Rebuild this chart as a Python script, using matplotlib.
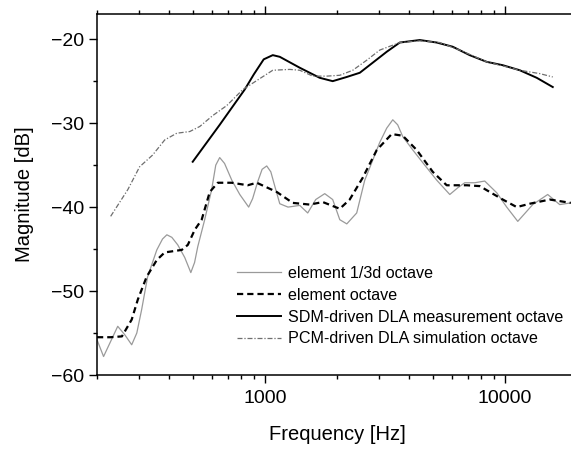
import numpy as np
import matplotlib
matplotlib.use('Agg')
import matplotlib.pyplot as plt
from matplotlib.ticker import LogLocator, MultipleLocator, NullFormatter, FixedLocator

# ---data--- #
third_freq = [200, 213, 244, 261, 279, 293, 307, 325, 355, 375, 391, 410, 434, 464, 492,
              510, 526, 562, 601, 625, 649, 680, 729, 787, 857, 890, 934, 975, 1019, 1060,
              1101, 1155, 1250, 1399, 1510, 1631, 1778, 1919, 2054, 2197, 2416, 2610,
              2792, 3013, 3222, 3415, 3580, 3758, 4140, 4552, 5208, 5902, 6370, 6813,
              7499, 8254, 9265, 10190, 11330, 13080, 15100, 16940, 18840]
third_db = [-55.8, -57.8, -54.2, -55.2, -56.4, -55.0, -52.2, -48.3, -45.1, -43.8, -43.3,
            -43.6, -44.5, -46.0, -47.8, -46.6, -44.7, -41.5, -37.9, -35.0, -34.1, -34.8,
            -36.8, -38.5, -40.0, -39.0, -37.0, -35.5, -35.1, -35.8, -37.5, -39.6, -40.0,
            -39.8, -40.7, -39.1, -38.4, -39.1, -41.5, -42.0, -40.7, -36.8, -34.7, -32.3,
            -30.6, -29.6, -30.2, -31.6, -33.2, -34.7, -36.8, -38.5, -37.7, -37.1, -37.1,
            -36.9, -38.3, -40.0, -41.7, -39.7, -38.5, -39.7, -39.5]

oct_freq = [200, 228, 254, 279, 296, 322, 355, 383, 451, 478, 511, 546, 590, 637, 729,
            849, 926, 1122, 1308, 1540, 1745, 2054, 2259, 2560, 2929, 3381, 3758, 4297,
            5012, 5730, 6950, 7865, 9812, 11220, 12710, 15400, 18840]
oct_db = [-55.5, -55.5, -55.4, -53.4, -51.0, -48.3, -46.3, -45.4, -45.1, -44.5, -42.7,
          -41.5, -38.2, -37.1, -37.1, -37.4, -37.1, -38.2, -39.5, -39.7, -39.4, -40.2,
          -39.1, -36.5, -33.2, -31.3, -31.5, -33.2, -35.8, -37.4, -37.4, -37.5, -39.1,
          -40.0, -39.6, -39.1, -39.5]

sdm_freq = [501, 649, 825, 900, 990, 1080, 1155, 1399, 1694, 1919, 2197, 2489, 2818, 3222,
            3652, 4424, 5208, 6072, 7143, 8414, 9812, 11550, 13590, 15850]
sdm_db = [-34.6, -30.2, -26.0, -24.2, -22.4, -21.9, -22.1, -23.4, -24.6, -25.0, -24.5,
          -24.0, -22.8, -21.5, -20.4, -20.1, -20.4, -20.9, -21.9, -22.7, -23.1, -23.7,
          -24.6, -25.7]

pcm_freq = [228, 269, 301, 341, 383, 430, 487, 536, 607, 695, 810, 953, 1080, 1271, 1399,
            1585, 1813, 2054, 2327, 2661, 3013, 3652, 4424, 5358, 6494, 8414, 10190,
            11550, 13990, 15850]
pcm_db = [-41.1, -37.9, -35.2, -33.8, -32.0, -31.2, -31.0, -30.4, -29.1, -27.9, -26.0,
          -24.7, -23.7, -23.6, -23.7, -24.4, -24.4, -24.3, -23.7, -22.5, -21.3, -20.4,
          -20.2, -20.4, -21.3, -22.7, -23.3, -23.7, -24.1, -24.5]

labels = ['element 1/3d octave', 'element octave',
          'SDM-driven DLA measurement octave', 'PCM-driven DLA simulation octave']

plt.rcParams['font.family'] = ['Liberation Sans', 'DejaVu Sans']

fig = plt.figure(figsize=(5.71, 4.49), dpi=100)
ax = fig.add_axes([97 / 571, 1 - 375 / 449, 480 / 571, 361 / 449])

ax.plot(third_freq, third_db, color='#9a9a9a', lw=0.9, label=labels[0])
ax.plot(oct_freq, oct_db, color='black', lw=1.6, linestyle=(0, (2.8, 1.8)), label=labels[1])
ax.plot(sdm_freq, sdm_db, color='black', lw=1.4, label=labels[2])
ax.plot(pcm_freq, pcm_db, color='#6e6e6e', lw=0.9,
        linestyle=(0, (4, 1.5, 1, 1.5)), label=labels[3])

ax.set_xscale('log')
ax.set_xlim(200, 20000)
ax.set_ylim(-60, -17)
ax.xaxis.set_major_locator(FixedLocator([1000, 10000]))
ax.xaxis.set_major_formatter(matplotlib.ticker.FixedFormatter(['1000', '10000']))
ax.xaxis.set_minor_locator(LogLocator(base=10, subs=np.arange(2, 10), numticks=20))
ax.xaxis.set_minor_formatter(NullFormatter())
ax.yaxis.set_major_locator(MultipleLocator(10))
ax.yaxis.set_minor_locator(MultipleLocator(5))

ax.tick_params(which='both', direction='out', top=True, right=False, labelsize=14, width=1)
ax.tick_params(axis='x', pad=5)
ax.tick_params(axis='y', pad=3.5)
ax.tick_params(which='major', length=5.8)
ax.tick_params(which='minor', length=3)
for s in ax.spines.values():
    s.set_linewidth(1.1)

ax.set_xlabel('Frequency [Hz]', fontsize=14.5, labelpad=13)
ax.set_ylabel('Magnitude [dB]', fontsize=14.5, labelpad=12)

ax.legend(loc='upper left', bbox_to_anchor=(237 / 571, 1 - 266 / 449),
          bbox_transform=fig.transFigure, frameon=False, fontsize=11.6,
          handlelength=2.7, handletextpad=0.45, labelspacing=0.42, borderpad=0,
          borderaxespad=0)

fig.savefig('out.png', dpi=100)
